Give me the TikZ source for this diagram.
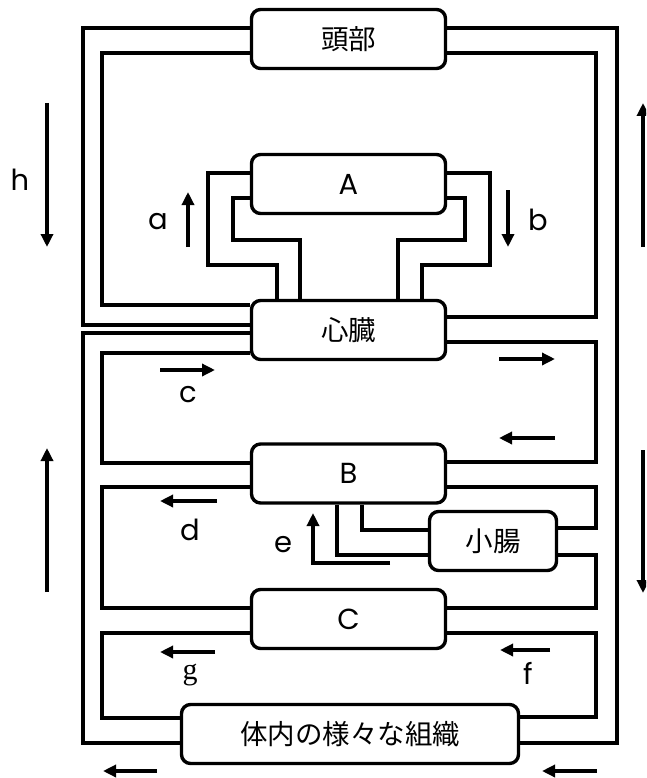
\documentclass[tikz,border=0pt]{standalone}
\usepackage{fontspec}
\setmainfont{Poppins}
\newfontfamily\jpfont{Noto Sans CJK JP}
\newfontfamily\seriffont{Liberation Serif}
\usetikzlibrary{arrows.meta,positioning}

\begin{document}
\begin{tikzpicture}[
  x=1pt, y=-1pt,
  organ/.style={draw, line width=3.4pt, rounded corners=9pt, align=center, minimum width=194pt, minimum height=59pt, inner sep=0pt, font=\jpfont\fontsize{27.5}{32}\selectfont},
  letter/.style={font=\fontsize{29}{34}\selectfont},
  vessel/.style={line width=3.4pt},
  flow/.style={line width=3.4pt, -{Triangle[width=12pt,length=13pt]}},
  lbl/.style={inner sep=0pt, font=\fontsize{29}{34}\selectfont}
]
\clip (0,0) rectangle (646,778);

% Organs
\node[organ] (head) at (348.5,39) {頭部};
\node[organ, letter] (A) at (348.5,184) {A};
\node[organ] (heart) at (348.5,330) {心臓};
\node[organ, letter] (B) at (348.5,473.5) {B};
\node[organ, minimum width=127pt] (gut) at (493,541) {小腸};
\node[organ, letter] (C) at (348.5,619) {C};
\node[organ, minimum width=337pt] (tissue) at (350,734) {体内の様々な組織};

% Head loop
\draw[vessel] (head.west |- 0,28) -| (83,325) -- (heart.west |- 0,325);
\draw[vessel] (head.west |- 0,53) -| (102,305) -- (heart.west |- 0,305);
\draw[vessel] (head.east |- 0,28) -| (617,743) -- (tissue.east |- 0,743);
\draw[vessel] (head.east |- 0,53) -| (596,317) -- (heart.east |- 0,317);

% A and heart
\draw[vessel] (A.west |- 0,173) -| (208,265) -| (heart.north -| 277,0);
\draw[vessel] (A.west |- 0,198) -| (233,240) -| (heart.north -| 300,0);
\draw[vessel] (A.east |- 0,173) -| (490,265) -| (heart.north -| 422,0);
\draw[vessel] (A.east |- 0,198) -| (465,240) -| (heart.north -| 398,0);

% Lower body, left side
\draw[vessel] (heart.west |- 0,333) -| (83,743) -- (tissue.west |- 0,743);
\draw[vessel] (heart.west |- 0,353) -| (102,463) -- (B.west |- 0,463);
\draw[vessel] (B.west |- 0,487) -| (102,608) -- (C.west |- 0,608);
\draw[vessel] (C.west |- 0,633) -| (102,718) -- (tissue.west |- 0,718);

% Lower body, right side
\draw[vessel] (heart.east |- 0,342) -| (596,462) -- (B.east |- 0,462);
\draw[vessel] (B.east |- 0,487) -| (596,528) -- (gut.east |- 0,528);
\draw[vessel] (gut.east |- 0,555) -| (596,608) -- (C.east |- 0,608);
\draw[vessel] (C.east |- 0,633) -| (596,717) -- (tissue.east |- 0,717);

% B and small intestine
\draw[vessel] (B.south -| 362,0) |- (gut.west |- 0,530);
\draw[vessel] (B.south -| 337,0) |- (gut.west |- 0,555);

% Flow arrows
\draw[flow] (47,103) -- (47,247);
\draw[flow] (47,592) -- (47,448);
\draw[flow] (643,247) -- (643,103);
\draw[flow] (643,450) -- (643,593);
\draw[flow] (188,247) -- (188,192);
\draw[flow] (508,190) -- (508,247);
\draw[flow] (160,370) -- (215,370);
\draw[flow] (499,359) -- (555,359);
\draw[flow] (555,438) -- (499,438);
\draw[flow] (217,501) -- (160,501);
\draw[flow] (390,563) -| (313,513);
\draw[flow] (215,652) -- (160,652);
\draw[flow] (550,650) -- (500,650);
\draw[flow] (157,771) -- (103,771);
\draw[flow] (597,771) -- (542,771);

% Labels
\node[lbl] (la) at (158,222) {a};
\node[lbl] (lb) at (538,220) {b};
\node[lbl] (lc) at (188,395) {c};
\node[lbl] (ld) at (190,530) {d};
\node[lbl] (le) at (283,545) {e};
\node[lbl] (lf) at (528,673) {f};
\node[lbl, font=\seriffont\fontsize{30}{34}\selectfont] (lg) at (190,675) {g};
\node[lbl] (lh) at (20,180) {h};

\end{tikzpicture}
\end{document}
